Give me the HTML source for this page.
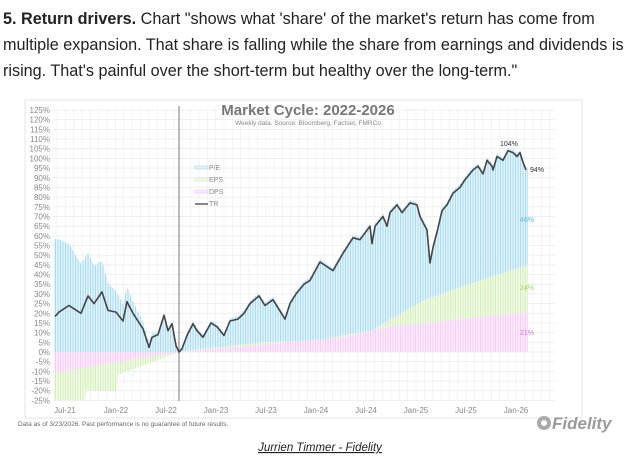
<!DOCTYPE html>
<html><head><meta charset="utf-8"><style>
body{margin:0;background:#fff;width:644px;height:472px;overflow:hidden;font-family:"Liberation Sans",Arial,sans-serif;}
.hdr{position:absolute;left:3px;top:6px;width:640px;font-size:16.2px;line-height:26px;color:#222;}
</style></head><body>
<div class="hdr"><b>5. Return drivers.</b> Chart "shows what 'share' of the market's return has come from multiple expansion. That share is falling while the share from earnings and dividends is rising. That's painful over the short-term but healthy over the long-term."</div>
<svg id="s" style="position:absolute;left:0;top:0" width="644" height="472" xmlns="http://www.w3.org/2000/svg">
<defs>
<pattern id="pb" width="2.5" height="10" patternUnits="userSpaceOnUse"><rect width="2.5" height="10" fill="#e2f4fb"/><rect width="1" height="10" fill="#a9dcf0"/></pattern>
<pattern id="pg" width="2.5" height="10" patternUnits="userSpaceOnUse"><rect width="2.5" height="10" fill="#f1fae6"/><rect width="1" height="10" fill="#d3eebb"/></pattern>
<pattern id="pp" width="2.5" height="10" patternUnits="userSpaceOnUse"><rect width="2.5" height="10" fill="#fcebfc"/><rect width="1" height="10" fill="#f3cdf3"/></pattern>
</defs>
<rect x="25" y="100" width="557" height="318" fill="#fff" stroke="#e6e6e6"/>
<g id="grid"></g>
<g id="areas"></g>
<line x1="179" y1="106" x2="179" y2="401" stroke="#777" stroke-width="1"/>
<polyline id="tr" fill="none" stroke="#444" stroke-width="1.6" stroke-linejoin="round"/>
<g id="ylab" font-size="8" fill="#888" text-anchor="end"></g>
<g font-size="8" fill="#888" text-anchor="middle">
<text x="65" y="413">Jul-21</text><text x="116" y="413">Jan-22</text><text x="166" y="413">Jul-22</text><text x="216" y="413">Jan-23</text><text x="266" y="413">Jul-23</text><text x="316" y="413">Jan-24</text><text x="366" y="413">Jul-24</text><text x="416" y="413">Jan-25</text><text x="466" y="413">Jul-25</text><text x="516" y="413">Jan-26</text>
</g>
<text x="308" y="115" font-size="15" font-weight="bold" fill="#777" text-anchor="middle">Market Cycle: 2022-2026</text>
<text x="308" y="125" font-size="6.5" fill="#888" text-anchor="middle">Weekly data.  Source: Bloomberg, Factset, FMRCo</text>
<g font-size="7" fill="#888">
<rect x="195" y="166" width="13" height="3" fill="#e2f4fb" stroke="#9fd6ee" stroke-width=".6"/><text x="209" y="170">P/E</text>
<rect x="195" y="178" width="13" height="3" fill="#f1fae6" stroke="#cdebb0" stroke-width=".6"/><text x="209" y="182">EPS</text>
<rect x="195" y="190" width="13" height="3" fill="#fcebfc" stroke="#f0c0f0" stroke-width=".6"/><text x="209" y="194">DPS</text>
<line x1="195" y1="204" x2="208" y2="204" stroke="#444" stroke-width="1.3"/><text x="209" y="206">TR</text>
</g>
<text x="500" y="146" font-size="7" fill="#333">104%</text>
<text x="530" y="172" font-size="7" fill="#333">94%</text>
<text x="520" y="222" font-size="7" fill="#5ab4e6">46%</text>
<text x="520" y="290" font-size="7" fill="#a5d36e">24%</text>
<text x="520" y="335" font-size="7" fill="#e070e0">21%</text>
<text x="18" y="426" font-size="6.5" fill="#666">Data as of 3/23/2026. Past performance is no guarantee of future results.</text>
<circle cx="544" cy="423" r="7" fill="#aaa"/><circle cx="544" cy="423" r="3" fill="#fff"/>
<text x="552" y="429" font-size="17" font-weight="bold" font-style="italic" fill="#9a9a9a">Fidelity</text>
<text x="320" y="451" font-size="11.5" font-style="italic" fill="#222" text-anchor="middle" text-decoration="underline">Jurrien Timmer - Fidelity</text>
</svg>
<script>
var Y=function(v){return 352-1.936*v;};
var ns="http://www.w3.org/2000/svg";
function el(t,a,p){var e=document.createElementNS(ns,t);for(var k in a)e.setAttribute(k,a[k]);p.appendChild(e);return e;}
var g=document.getElementById('grid');
for(var v=-25;v<=125;v+=5){el('line',{x1:53,x2:555,y1:Y(v),y2:Y(v),stroke:'#e8e8e8','stroke-width':.7},g);
 var t=el('text',{x:50,y:Y(v)+3},document.getElementById('ylab'));t.textContent=v+'%';}
for(var x=57;x<=555;x+=8.35)el('line',{x1:x,x2:x,y1:Y(125),y2:Y(-25),stroke:'#efefef','stroke-width':.7},g);
var tr=[[55,18.4],[59,20.6],[69,24],[75,22],[81,20],[88,29],[94,25],[102,31],[108,21.5],[116,20.6],[123,16],[127,26],[133,20],[143,12],[149,2.4],[152,7.6],[158,9],[164,19],[168,11],[172,14.6],[176,3.3],[179,0],[182,1.6],[187,8.5],[193,14.6],[197,11],[203,7.6],[211,15],[217,13],[224,8.5],[230,16],[238,17],[244,20],[250,25],[259,29],[265,24],[273,27],[285,17],[290,25],[296,30],[304,35],[310,37],[320,46.5],[333,42],[343,51],[353,59],[360,58],[370,65],[372,56],[375,65],[383,70],[387,65],[390,72],[397,76],[402,72],[410,77],[417,76],[420,70],[425,65],[427,63],[430,46],[433,54],[438,64],[442,73],[447,76],[453,82],[460,85],[465,89],[473,94],[478,96],[483,92],[487,99],[492,96],[493,94],[497,101],[503,99],[508,104],[513,103],[517,101],[520,103],[523,98],[526,94]];
document.getElementById('tr').setAttribute('points',tr.map(function(p){return p[0]+','+Y(p[1]).toFixed(1)}).join(' '));
function interp(arr,x){for(var i=1;i<arr.length;i++){if(x<=arr[i][0]){var a=arr[i-1],b=arr[i];var f=(x-a[0])/(b[0]-a[0]||1);return a[1]+f*(b[1]-a[1]);}}return arr[arr.length-1][1];}
var pink=[[53,0],[179,0],[265,4],[343,7.6],[388,13],[528,20.6]];
var green=[[53,0],[179,0],[200,1.5],[265,5],[320,6],[343,8.5],[372,11],[388,16],[425,27],[475,36],[528,45]];
var pinkN=[[53,-11],[179,0],[528,0]];
var greenN=[[53,-25],[85,-25],[85.1,-20],[117,-20],[117.1,-12],[179,0],[528,0]];
function blue(x){var t=interp(tr,x);if(x<179){var r=(179-x)/124;return t+40*Math.pow(r,1.9);}return Math.max(t+1.5,interp(green,x));}
var A=document.getElementById('areas');
function poly(top,bot,fill){var pts=[];for(var x=54;x<=528;x+=1)pts.push(x+','+Y(top(x)).toFixed(1));for(var x=528;x>=54;x-=1)pts.push(x+','+Y(bot(x)).toFixed(1));el('polygon',{points:pts.join(' '),fill:fill},A);}
poly(blue,function(x){return interp(green,x)},'url(#pb)');
poly(function(x){return interp(green,x)},function(x){return interp(pink,x)},'url(#pg)');
poly(function(x){return interp(pink,x)},function(x){return 0},'url(#pp)');
poly(function(x){return 0},function(x){return interp(pinkN,x)},'url(#pp)');
poly(function(x){return interp(pinkN,x)},function(x){return interp(greenN,x)},'url(#pg)');
</script>
</body></html>
